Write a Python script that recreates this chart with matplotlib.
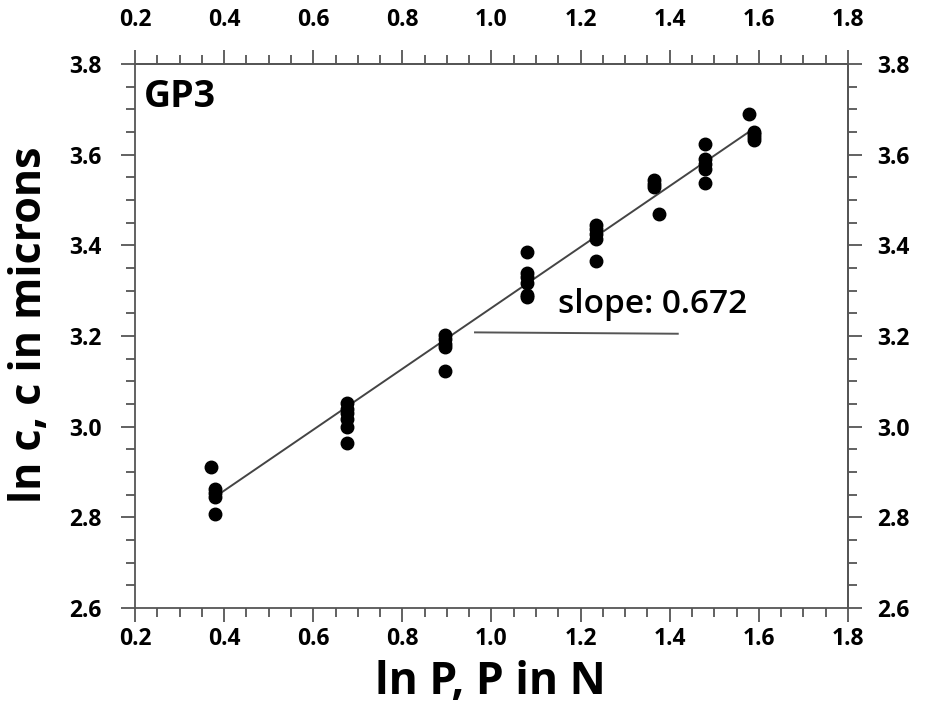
import matplotlib.pyplot as plt
from matplotlib.ticker import MultipleLocator, FixedLocator

# data
ln_p = [0.37, 0.38, 0.38, 0.38, 0.38,
        0.675, 0.675, 0.675, 0.675, 0.675, 0.675,
        0.895, 0.895, 0.895, 0.895, 0.895,
        1.08, 1.08, 1.08, 1.08, 1.08, 1.08,
        1.235, 1.235, 1.235, 1.235, 1.235,
        1.365, 1.365, 1.365, 1.375,
        1.48, 1.48, 1.48, 1.48, 1.48,
        1.578, 1.589, 1.589, 1.589, 1.589]
ln_c = [2.91, 2.862, 2.853, 2.845, 2.807,
        3.053, 3.04, 3.03, 3.018, 3.0, 2.965,
        3.203, 3.193, 3.182, 3.175, 3.122,
        3.385, 3.34, 3.33, 3.318, 3.29, 3.285,
        3.445, 3.435, 3.425, 3.415, 3.365,
        3.543, 3.535, 3.528, 3.47,
        3.623, 3.59, 3.58, 3.568, 3.537,
        3.69, 3.65, 3.645, 3.64, 3.633]
slope = 0.672
intercept = 2.59
fit_x = [0.38, 1.59]

x_ticks = [0.2, 0.4, 0.6, 0.8, 1.0, 1.2, 1.4, 1.6, 1.8]
y_ticks = [2.6, 2.8, 3.0, 3.2, 3.4, 3.6, 3.8]

AX_COLOR = '#555555'


def style_axis(axis, ticks):
    axis.set_major_locator(FixedLocator(ticks))
    axis.set_minor_locator(MultipleLocator(0.05))
    axis.set_major_formatter(lambda v, p: f'{v:.1f}')


if __name__ == "__main__":
    plt.rcParams['font.family'] = ['Open Sans', 'DejaVu Sans']
    fig = plt.figure(figsize=(9.29, 7.07), dpi=100)
    ax = fig.add_axes([0.1453, 0.140, 0.7675, 0.7695])

    ax.plot(ln_p, ln_c, 'o', color='black', markersize=9, zorder=3)
    ax.plot(fit_x, [intercept + slope * x for x in fit_x], '-', color='#444444', lw=1.4)

    ax.plot([0.963, 1.418], [3.208, 3.205], '-', color='#555555', lw=1.4)
    ax.text(1.149, 3.27, 'slope: 0.672', fontsize=24, fontweight='semibold', va='center')
    ax.text(0.221, 3.728, 'GP3', fontsize=27, fontweight='bold', va='center')

    ax.set_xlim(0.2, 1.8)
    ax.set_ylim(2.6, 3.8)
    style_axis(ax.xaxis, x_ticks)
    style_axis(ax.yaxis, y_ticks)

    top = ax.secondary_xaxis('top')
    right = ax.secondary_yaxis('right')
    style_axis(top.xaxis, x_ticks)
    style_axis(right.yaxis, y_ticks)

    for a in [ax, top, right]:
        a.tick_params(which='both', direction='out', color=AX_COLOR, width=1.3)
        a.tick_params(which='major', length=10, labelsize=16.5)
        a.tick_params(which='minor', length=6.5)
        for s in a.spines.values():
            s.set_color(AX_COLOR)
            s.set_linewidth(1.3)
    ax.tick_params(axis='x', which='major', pad=4)
    ax.tick_params(axis='y', which='major', pad=14)
    top.tick_params(axis='x', which='major', pad=13)
    right.tick_params(axis='y', which='major', pad=11)

    for a in [ax, top, right]:
        for lab in a.get_xticklabels() + a.get_yticklabels():
            lab.set_fontweight('bold')

    fig.text(30 / 929, 1 - 325 / 707, 'ln c, c in microns', fontsize=31,
             fontweight='bold', rotation=90, ha='center', va='center')
    fig.text(490 / 929, 1 - 683 / 707, 'ln P, P in N', fontsize=32,
             fontweight='bold', ha='center', va='center')

    plt.savefig('out.png', dpi=100)
